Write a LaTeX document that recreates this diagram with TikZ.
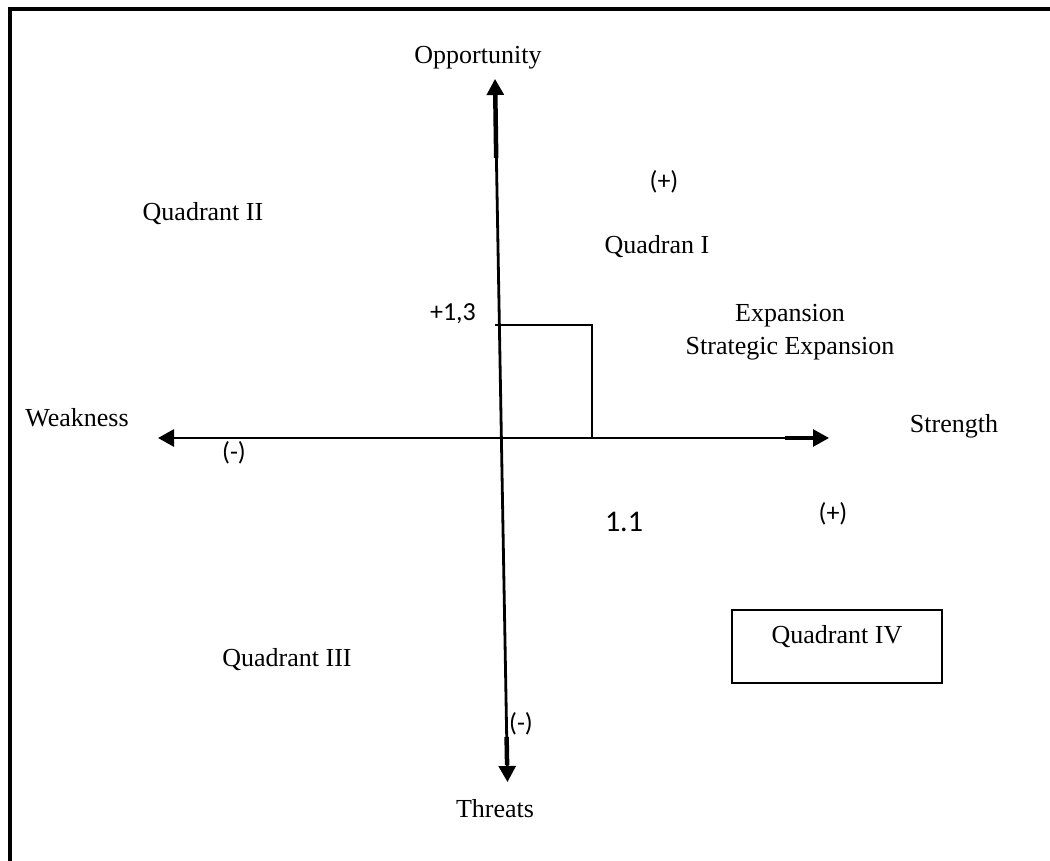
\documentclass[tikz,border=0pt]{standalone}
\usepackage{fontspec}
\setmainfont{Liberation Serif}
\newfontfamily\lblsans{Carlito}
\usetikzlibrary{arrows.meta}
\begin{document}
\begin{tikzpicture}[x=1pt,y=-1pt,
  serif/.style={font=\fontsize{26}{30}\selectfont, inner sep=0pt},
  sans/.style={font=\lblsans\fontsize{26}{30}\selectfont, inner sep=0pt},
  axis/.style={line width=2.8pt, {Triangle[length=16pt,width=17pt]}-{Triangle[length=16pt,width=17pt]}},
  thick seg/.style={line width=4.5pt},
  box/.style={draw, line width=2.6pt}]
\useasboundingbox (0,0) rectangle (1050,861);
% frame (left and top edges)
\draw[line width=4pt] (9.5,861) -- (9.5,9.5) -- (1050,9.5);
% axis end points
\coordinate (top) at (495,79);
\coordinate (bot) at (507.5,782);
\coordinate (left) at (158,438);
\coordinate (right) at (829,438);
\draw[axis] (left) -- (right);
\draw[axis] (bot) -- (top);
% thicker segments near the tips
\draw[thick seg] (495.3,95) -- (496.2,158);
\draw[thick seg] (506.6,737) -- (507.1,765);
\draw[thick seg] (785,438) -- (813,438);
% small rectangle
\coordinate (rtl) at (495,325);
\coordinate (rtr) at (592,325);
\coordinate (rbr) at (592,438);
\draw[line width=2.8pt] (rtl) -- (rtr) -- (rbr);
% labels
\node[serif] (opp) at (478,58) {Opportunity};
\node[serif] (thr) at (495,809) {Threats};
\node[serif] (wea) at (77,418) {Weakness};
\node[serif] (str) at (954,426) {Strength};
\node[serif] (q2) at (203,214) {Quadrant II};
\node[serif] (q1) at (657,247) {Quadran I};
\node[serif] (exp1) at (790,316) {Expansion};
\node[serif] (exp2) at (790,349) {Strategic Expansion};
\node[serif] (q3) at (287,660) {Quadrant III};
\node[box, minimum width=210pt, minimum height=73pt, inner sep=0pt] (q4box) at (837,646.5) {};
\node[serif] (q4) at (837,637) {Quadrant IV};
\node[sans] (v13) at (453,314) {+1,3};
\node[sans] (mx) at (234,453) {(-)};
\node[sans] (my) at (521,724) {(-)};
\node[sans] (px) at (833,514) {(+)};
\node[sans] (py) at (664,182) {(+)};
\node[sans, font=\lblsans\fontsize{30}{34}\selectfont] (v11) at (624,522) {1.1};
\end{tikzpicture}
\end{document}
